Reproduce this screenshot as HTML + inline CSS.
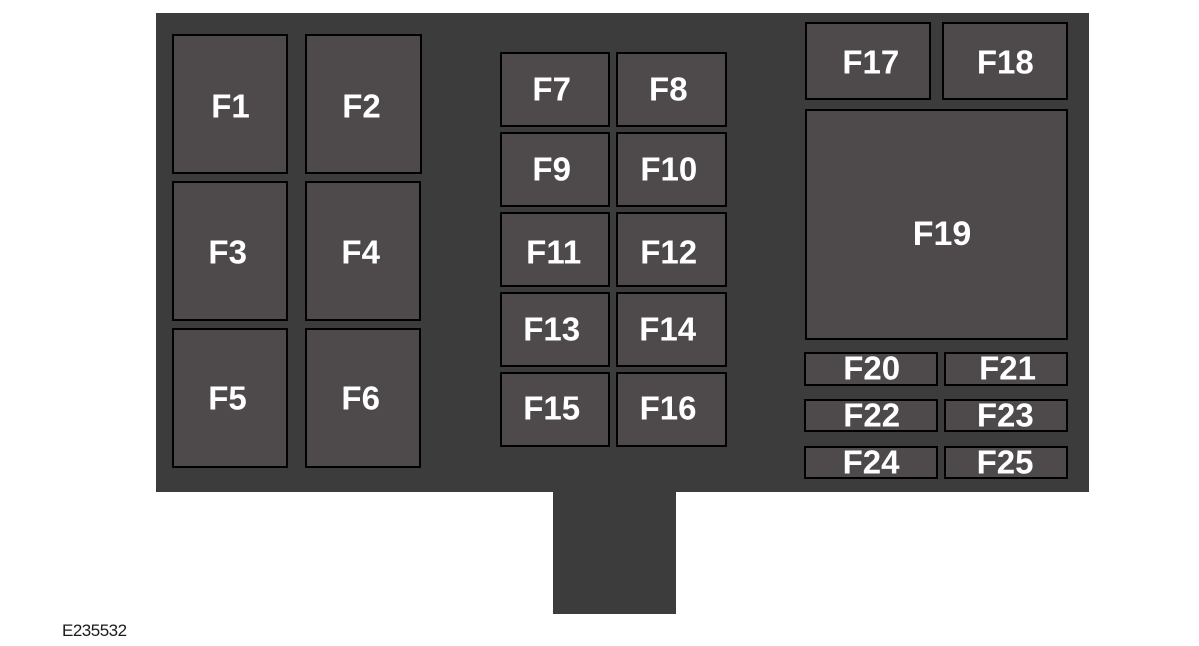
<!DOCTYPE html>
<html>
<head>
<meta charset="utf-8">
<style>
  html,body{margin:0;padding:0;background:#fff;}
  body{width:1199px;height:646px;position:relative;overflow:hidden;font-family:"Liberation Sans",Arial,sans-serif;}
  .bg{position:absolute;background:#3b3c3b;}
  .b{position:absolute;box-sizing:border-box;border:2px solid #000;background:#4e4a4b;}
  .t{position:absolute;color:#fff;font-weight:bold;font-size:33px;line-height:1;white-space:nowrap;transform:translate(-50%,-50%);}
  .lbl{position:absolute;left:62px;top:622px;font-size:17px;line-height:1;color:#1a1a1a;letter-spacing:-0.5px;}
</style>
</head>
<body>
<div class="bg" style="left:156px;top:13px;width:933px;height:479px;"></div>
<div class="bg" style="left:553px;top:490px;width:123px;height:124px;"></div>

<!-- left block -->
<div class="b" style="left:172px;top:34px;width:116px;height:140px;"></div>
<div class="b" style="left:305px;top:34px;width:117px;height:140px;"></div>
<div class="b" style="left:172px;top:181px;width:116px;height:140px;"></div>
<div class="b" style="left:305px;top:181px;width:116px;height:140px;"></div>
<div class="b" style="left:172px;top:328px;width:116px;height:140px;"></div>
<div class="b" style="left:305px;top:328px;width:116px;height:140px;"></div>

<!-- middle block -->
<div class="b" style="left:500px;top:52px;width:110px;height:75px;"></div>
<div class="b" style="left:616px;top:52px;width:111px;height:75px;"></div>
<div class="b" style="left:500px;top:132px;width:110px;height:75px;"></div>
<div class="b" style="left:616px;top:132px;width:111px;height:75px;"></div>
<div class="b" style="left:500px;top:212px;width:110px;height:75px;"></div>
<div class="b" style="left:616px;top:212px;width:111px;height:75px;"></div>
<div class="b" style="left:500px;top:292px;width:110px;height:75px;"></div>
<div class="b" style="left:616px;top:292px;width:111px;height:75px;"></div>
<div class="b" style="left:500px;top:372px;width:110px;height:75px;"></div>
<div class="b" style="left:616px;top:372px;width:111px;height:75px;"></div>

<!-- right block -->
<div class="b" style="left:805px;top:22px;width:126px;height:78px;"></div>
<div class="b" style="left:942px;top:22px;width:126px;height:78px;"></div>
<div class="b" style="left:805px;top:109px;width:263px;height:231px;"></div>
<div class="b" style="left:804px;top:352px;width:134px;height:34px;"></div>
<div class="b" style="left:944px;top:352px;width:124px;height:34px;"></div>
<div class="b" style="left:804px;top:399px;width:134px;height:33px;"></div>
<div class="b" style="left:944px;top:399px;width:124px;height:33px;"></div>
<div class="b" style="left:804px;top:446px;width:134px;height:33px;"></div>
<div class="b" style="left:944px;top:446px;width:124px;height:33px;"></div>

<!-- labels -->
<span class="t" style="left:230.5px;top:106px;">F1</span>
<span class="t" style="left:361.5px;top:105.5px;">F2</span>
<span class="t" style="left:227.7px;top:252px;">F3</span>
<span class="t" style="left:360.7px;top:252px;">F4</span>
<span class="t" style="left:227.5px;top:398px;">F5</span>
<span class="t" style="left:360.7px;top:398px;">F6</span>

<span class="t" style="left:551.7px;top:88.7px;">F7</span>
<span class="t" style="left:668.3px;top:88.7px;">F8</span>
<span class="t" style="left:551.7px;top:168.7px;">F9</span>
<span class="t" style="left:668.8px;top:168.7px;">F10</span>
<span class="t" style="left:553.7px;top:252px;">F11</span>
<span class="t" style="left:668.7px;top:252px;">F12</span>
<span class="t" style="left:551.7px;top:328.7px;">F13</span>
<span class="t" style="left:667.7px;top:328.7px;">F14</span>
<span class="t" style="left:551.7px;top:408.3px;">F15</span>
<span class="t" style="left:668px;top:408.3px;">F16</span>

<span class="t" style="left:870.8px;top:61.7px;">F17</span>
<span class="t" style="left:1005.3px;top:61.7px;">F18</span>
<span class="t" style="left:942px;top:234px;font-size:34px;">F19</span>
<span class="t" style="left:871.7px;top:368.3px;">F20</span>
<span class="t" style="left:1007.5px;top:368.3px;">F21</span>
<span class="t" style="left:871.7px;top:414.7px;">F22</span>
<span class="t" style="left:1005.3px;top:414.7px;">F23</span>
<span class="t" style="left:871px;top:462px;">F24</span>
<span class="t" style="left:1005px;top:462px;">F25</span>

<div class="lbl">E235532</div>
</body>
</html>
